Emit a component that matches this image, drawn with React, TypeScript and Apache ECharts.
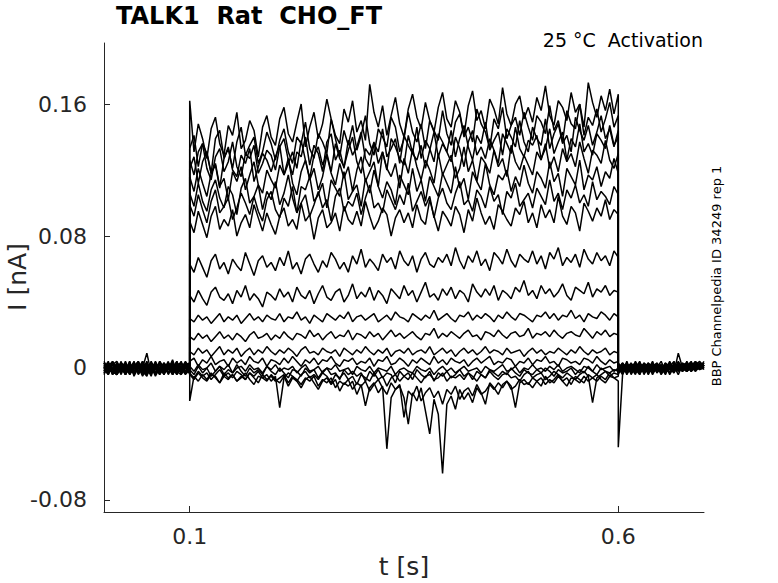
import React, { useEffect, useRef } from "react";
import * as echarts from "echarts";

// ---- sampling (s) ----
const SAMPLE_STEP = 0.005;
const PULSE_START = 0.1;
const PULSE_END = 0.6;

// ---- axis ticks ----
const xTicks = [0.1, 0.6];
const yTicks = [-0.08, 0, 0.08, 0.16];

// ---- texts ----
const titleText = "TALK1  Rat  CHO_FT";
const conditionText = "25 °C  Activation";
const sourceText = "BBP Channelpedia ID 34249 rep 1";
const yName = "I [nA]";
const xName = "t [s]";

// ---- sweeps, values in pA (pre: 0..0.1 s, pulse: 0.1..0.6 s, post: 0.6..0.7 s) ----
const preA = [2, -3, 4, -1, 0, -4, 3, -2, 1, -5, 0, 3, -3, 2, -1, 4, -4, 0, 3, -2, 0];
const pulseA = [
  162, 131, 148, 139, 127, 145, 152, 136, 129, 147, 141, 155, 133, 138, 150, 144, 128, 146, 153, 140,
  135, 151, 158, 142, 137, 149, 160, 134, 146, 155, 139, 148, 163, 151, 141, 136, 157, 149, 162, 143,
  150, 138, 172, 155, 146, 159, 141, 153, 164, 148, 140, 157, 166, 152, 145, 161, 150, 143, 158, 167,
  151, 146, 162, 155, 141, 159, 168, 150, 156, 145, 163, 157, 148, 170, 154, 147, 160, 165, 151, 158,
  149, 164, 156, 171, 153, 147, 162, 158, 150, 167, 155, 160, 146, 173, 161, 152, 165, 156, 169, 154, 166,
];
const postA = [1, -3, 2, 0, -4, 3, -1, 2, -3, 0, 4, -2, 1, -3, 2, 0, -2, 3, 1, -1, 2];

const preB = [-2, 3, -4, 0, 2, -3, 4, -5, 0, 3, -1, 2, -4, 3, 0, -3, 2, -1, 4, -3, 1];
const pulseB = [
  133, 141, 122, 136, 130, 118, 139, 144, 127, 133, 121, 137, 146, 129, 135, 140, 124, 131, 143, 136,
  126, 138, 145, 131, 124, 140, 136, 149, 133, 127, 142, 137, 130, 151, 139, 128, 144, 135, 147, 132,
  141, 153, 136, 129, 145, 140, 134, 152, 146, 131, 139, 155, 143, 137, 148, 133, 150, 144, 138, 156,
  142, 135, 149, 154, 140, 146, 137, 157, 148, 143, 133, 151, 145, 158, 139, 147, 152, 141, 155, 146,
  138, 153, 149, 142, 159, 144, 150, 137, 156, 148, 145, 160, 141, 152, 147, 157, 143, 151, 161, 146, 153,
];
const postB = [-2, 2, -4, 1, 3, -2, 0, -3, 2, 1, -1, 3, -3, 0, 2, -2, 4, -1, 0, 3, 1];

const preC = [3, -1, 0, -4, 3, 1, -3, 0, 4, -2, -4, 2, 0, -3, 3, -1, 5, -3, 0, 2, -2];
const pulseC = [
  126, 117, 131, 136, 121, 114, 128, 133, 119, 125, 137, 122, 116, 130, 127, 135, 118, 124, 132, 129,
  120, 134, 139, 126, 117, 131, 128, 140, 123, 135, 130, 119, 137, 142, 126, 132, 121, 138, 129, 134,
  143, 127, 122, 136, 131, 145, 128, 133, 139, 124, 141, 135, 130, 146, 127, 138, 133, 125, 142, 137,
  131, 144, 128, 139, 147, 134, 126, 141, 136, 149, 132, 138, 143, 129, 145, 140, 134, 150, 137, 131,
  146, 139, 135, 151, 133, 142, 148, 136, 141, 131, 152, 144, 138, 147, 135, 143, 153, 139, 145, 134, 144,
];
const postC = [3, -1, 0, -3, 2, -4, 3, 1, -2, 0, 2, -3, 1, 4, -1, 0, -2, 2, 3, 0, 2];

const preQ = [1, -2, 3, -4, 0, 2, -1, 3, -3, 1, 0, -2, 4, -1, -3, 2, 0, -4, 1, 3, -1];
const pulseQ = [
  121, 128, 112, 125, 131, 118, 123, 109, 127, 134, 120, 116, 129, 124, 133, 113, 122, 130, 126, 119,
  128, 135, 117, 124, 131, 121, 138, 126, 115, 129, 134, 123, 130, 119, 136, 127, 122, 132, 140, 125,
  118, 133, 129, 137, 124, 131, 120, 139, 134, 127, 123, 141, 130, 126, 135, 121, 132, 143, 128, 136,
  131, 125, 140, 133, 122, 137, 144, 129, 134, 127, 139, 132, 124, 142, 136, 130, 146, 133, 128, 138,
  135, 141, 127, 133, 145, 130, 137, 143, 126, 139, 134, 148, 131, 136, 129, 142, 138, 133, 147, 135, 140,
];
const postQ = [-1, 3, 0, -2, 4, -1, 1, -3, 2, 0, -2, 3, -1, 1, -4, 2, 0, 3, -2, 1, 0];

const preD = [-3, 0, 2, -2, 4, -4, 0, 3, -3, 1, 0, -5, 3, -1, 2, -3, 0, 4, -4, 0, 3];
const pulseD = [
  116, 107, 121, 112, 104, 118, 124, 110, 115, 102, 119, 113, 122, 108, 117, 125, 111, 106, 120, 114,
  109, 123, 117, 127, 112, 105, 119, 126, 114, 121, 108, 116, 129, 118, 111, 124, 115, 122, 107, 120,
  128, 113, 119, 125, 110, 131, 121, 116, 124, 109, 127, 118, 133, 122, 114, 126, 120, 112, 130, 117,
  123, 129, 115, 121, 134, 119, 126, 113, 128, 124, 118, 132, 122, 127, 116, 135, 125, 120, 129, 123,
  117, 131, 126, 136, 121, 128, 119, 133, 125, 130, 122, 137, 127, 118, 132, 129, 124, 138, 126, 121, 130,
];
const postD = [0, -4, 3, -1, 1, 2, -3, 0, 3, -2, 1, 0, -3, 2, -1, 3, 0, -1, 2, 4, 1];

const preE = [0, 4, -3, 1, -2, 3, -4, 2, 0, -3, 3, -1, 2, -4, 0, 3, -3, 1, -2, 0, -3];
const pulseE = [
  106, 98, 112, 101, 95, 108, 114, 103, 97, 110, 105, 93, 109, 115, 100, 104, 111, 96, 107, 102,
  113, 99, 106, 117, 103, 94, 110, 108, 116, 101, 105, 112, 97, 114, 109, 104, 119, 102, 107, 111,
  98, 115, 106, 120, 110, 103, 113, 108, 99, 117, 111, 105, 121, 107, 114, 101, 116, 110, 104, 118,
  112, 106, 122, 109, 115, 102, 119, 113, 108, 124, 111, 105, 117, 114, 120, 107, 116, 110, 123, 112,
  106, 119, 115, 109, 125, 113, 118, 104, 121, 116, 111, 126, 108, 117, 114, 122, 110, 119, 115, 127, 118,
];
const postE = [-3, 1, -2, 3, -1, 0, 2, -4, 1, 3, -2, 0, 2, -1, 3, -2, 1, 4, -1, 2, 3];

const preR = [-2, 1, 4, -3, 0, -1, 2, -4, 3, 0, -2, 1, -3, 4, 0, -1, 2, -3, 1, -2, 2];
const pulseR = [
  99, 92, 105, 96, 88, 101, 108, 94, 98, 103, 90, 97, 106, 100, 93, 104, 95, 89, 102, 107,
  96, 91, 103, 98, 110, 94, 100, 105, 92, 99, 107, 97, 102, 89, 104, 109, 95, 101, 98, 106,
  93, 103, 111, 97, 100, 94, 108, 102, 96, 105, 99, 112, 95, 101, 107, 98, 104, 91, 103, 109,
  100, 96, 106, 113, 99, 102, 95, 108, 104, 97, 110, 101, 105, 93, 107, 103, 112, 98, 102, 106,
  97, 109, 104, 99, 114, 101, 106, 96, 108, 103, 111, 100, 105, 98, 113, 102, 107, 104, 99, 110, 105,
];
const postR = [2, -3, 1, 0, -2, 3, -4, 1, 0, 2, -1, -3, 3, 0, -1, 2, -2, 1, 4, -1, 0];

const preF = [1, -4, 3, 0, -3, 2, -1, 4, -3, 0, 2, -4, 3, -2, 0, 2, -3, 3, -1, 4, 0];
const pulseF = [
  89, 82, 95, 87, 79, 92, 98, 84, 90, 86, 96, 80, 88, 93, 85, 99, 91, 83, 94, 87,
  81, 92, 97, 86, 90, 84, 100, 89, 93, 78, 91, 96, 85, 88, 94, 83, 98, 90, 87, 95,
  86, 101, 92, 84, 89, 97, 93, 80, 91, 96, 88, 94, 85, 99, 90, 87, 102, 92, 83, 95,
  91, 86, 98, 93, 82, 96, 89, 103, 94, 87, 92, 84, 99, 95, 90, 86, 97, 93, 101, 88,
  94, 85, 99, 91, 96, 88, 104, 92, 87, 98, 94, 83, 100, 95, 89, 97, 92, 102, 90, 96, 93,
];
const postF = [2, -2, 4, -3, 0, 1, -1, 3, -2, 0, -3, 2, 0, 1, -2, 2, 3, -1, 1, 0, 4];

const preG = [-4, 2, -1, 3, 0, -3, 2, -2, 3, -4, 1, 0, -3, 4, -1, 0, -4, 2, 3, -3, -1];
const pulseG = [
  63, 58, 67, 61, 55, 65, 69, 60, 64, 57, 66, 62, 59, 70, 63, 56, 65, 68, 61, 64,
  59, 67, 62, 71, 60, 64, 57, 66, 69, 63, 58, 65, 61, 70, 66, 60, 64, 58, 68, 63,
  72, 61, 66, 63, 59, 69, 64, 67, 60, 71, 65, 62, 68, 58, 66, 70, 63, 61, 67, 64,
  69, 62, 73, 65, 60, 68, 64, 71, 62, 66, 59, 70, 67, 63, 72, 65, 61, 69, 66, 64,
  71, 63, 68, 60, 70, 66, 73, 62, 67, 64, 69, 61, 72, 66, 63, 70, 65, 68, 62, 71, 67,
];
const postG = [-1, 3, -3, 0, 2, -2, 1, -1, 4, -3, 0, 1, 3, -2, 0, 1, -1, 2, 0, 3, 1];

const preH = [3, 0, -2, -4, 1, 3, -3, 0, 2, -1, 4, -3, 0, -2, 3, -4, 1, 0, -3, 2, 3];
const pulseH = [
  44, 40, 47, 42, 38, 46, 49, 43, 41, 45, 39, 47, 43, 50, 41, 45, 42, 37, 46, 44,
  41, 48, 43, 46, 40, 49, 44, 42, 47, 39, 45, 50, 43, 41, 46, 48, 40, 44, 51, 42,
  46, 43, 49, 41, 47, 44, 39, 48, 45, 42, 50, 44, 47, 40, 46, 52, 43, 45, 41, 48,
  44, 49, 42, 47, 45, 40, 51, 46, 43, 48, 44, 50, 41, 47, 45, 42, 49, 46, 53, 44,
  47, 42, 50, 45, 48, 43, 46, 51, 44, 41, 49, 47, 45, 52, 43, 48, 46, 50, 44, 47, 46,
];
const postH = [1, 0, -2, 2, -3, 3, 0, -2, 1, 2, -4, 0, 2, -1, 1, 3, -2, 0, 4, 1, 2];

const preI = [-1, 2, 3, -3, 0, -2, 4, -4, 2, 0, -3, 3, -1, 2, -4, 3, 0, -2, 1, -3, 0];
const pulseI = [
  30, 28, 32, 29, 31, 27, 30, 33, 28, 31, 29, 32, 27, 30, 33, 29, 31, 28, 32, 30,
  29, 33, 28, 31, 30, 34, 29, 31, 27, 32, 30, 28, 33, 31, 29, 32, 30, 34, 28, 31,
  32, 29, 31, 33, 28, 30, 32, 29, 34, 31, 30, 28, 33, 31, 29, 32, 30, 35, 29, 31,
  33, 30, 28, 32, 31, 34, 29, 32, 30, 33, 31, 28, 32, 30, 34, 31, 29, 33, 32, 30,
  28, 32, 31, 34, 30, 33, 29, 32, 31, 35, 30, 32, 28, 33, 31, 30, 34, 32, 29, 33, 31,
];
const postI = [-4, 2, 1, -2, 0, -3, 2, 1, -1, 3, 0, -2, -1, 2, 0, -2, 2, 1, -1, 2, 0];

const preJ = [0, -3, 2, 4, -1, 0, -3, 3, -2, 1, -4, 0, 3, -3, 2, -1, 4, -3, 0, -2, 1];
const pulseJ = [
  19, 17, 21, 18, 20, 16, 19, 22, 18, 20, 17, 21, 19, 16, 20, 22, 18, 19, 21, 17,
  20, 18, 22, 19, 17, 21, 20, 18, 23, 19, 21, 17, 20, 22, 18, 20, 19, 23, 17, 21,
  20, 18, 22, 19, 21, 17, 20, 23, 19, 21, 18, 20, 22, 19, 17, 21, 20, 24, 18, 21,
  19, 22, 20, 18, 21, 23, 19, 20, 17, 22, 21, 19, 23, 20, 18, 21, 22, 19, 20, 24,
  18, 21, 20, 22, 19, 23, 20, 18, 21, 22, 20, 19, 24, 21, 18, 22, 20, 23, 19, 21, 20,
];
const postJ = [2, -1, 3, -4, 1, 0, -2, 3, 0, -1, 2, -3, 1, 0, 3, -1, 0, 2, -2, 1, 3];

const preK = [4, -1, 0, -3, 3, -4, 2, 0, -2, 3, -3, 1, -5, 0, 2, -3, 3, -1, 0, 3, -4];
const pulseK = [
  10, 8, 12, 9, 11, 7, 10, 13, 8, 11, 9, 12, 7, 10, 12, 8, 11, 9, 13, 10,
  8, 11, 9, 12, 10, 7, 11, 13, 9, 10, 8, 12, 10, 9, 11, 7, 12, 10, 8, 11,
  9, 13, 10, 8, 11, 9, 12, 7, 10, 11, 9, 12, 8, 10, 11, 9, 13, 8, 10, 12,
  9, 11, 7, 10, 12, 9, 11, 8, 10, 13, 9, 11, 10, 8, 12, 9, 10, 11, 7, 10,
  12, 9, 11, 8, 10, 9, 12, 10, 8, 11, 9, 13, 10, 8, 11, 9, 10, 12, 8, 10, 9,
];
const postK = [0, 3, -1, 1, -3, 2, -1, 0, -3, 2, 1, -1, 4, -2, 0, 2, 1, -2, 3, 0, 1];

const preL = [-3, 2, -4, 0, 3, -2, 0, 2, -3, 4, -1, 0, -3, 2, -2, 3, -4, 1, 0, -3, 2];
const pulseL = [
  4, 6, 1, 5, 3, 7, 2, 4, 5, 1, 6, 3, 5, 2, 7, 4, 3, 6, 1, 5,
  4, 2, 6, 3, 7, 4, 1, 5, 3, 6, 2, 5, 4, 7, 3, 1, 5, 4, 6, 2,
  4, 3, 6, 1, 5, 4, 7, 2, 3, 6, 4, 1, 5, 3, 6, 4, 2, 7, 3, 5,
  2, 6, 4, 3, 5, 1, 4, 6, 3, 5, 7, 2, 4, 3, 6, 5, 1, 4, 3, 6,
  2, 5, 4, 7, 3, 4, 1, 6, 5, 3, 4, 2, 6, 5, 3, 7, 4, 2, 5, 3, 4,
];
const postL = [-2, 1, 0, 3, -2, -1, 3, -3, 2, 0, -2, 1, -1, 3, -2, 1, -1, 3, 0, 2, -1];

const preM = [2, 0, -3, 3, -2, 1, -4, 0, 3, -3, 2, -1, 0, -4, 3, 0, -2, 4, -3, 1, -1];
const pulseM = [
  1, -2, 2, -1, 0, 3, -2, 1, -1, 2, -3, 0, 1, -2, 2, -1, 0, -3, 1, -1,
  2, -2, 0, -1, 1, -3, 0, 2, -2, -1, 1, -3, 0, -1, 2, -2, -1, 0, -4, 1,
  -1, -2, 1, -3, 0, -1, -2, 1, -4, -1, 0, -2, -3, 1, -1, -2, 0, -4, -1, 1,
  -2, 0, -3, -1, 1, -2, -1, 0, -3, 1, -1, -2, 0, 2, -2, -1, 1, -3, 0, -1,
  2, -1, 0, -2, 1, -1, 2, -2, 0, 1, -1, -3, 1, 0, -2, 2, -1, 0, 1, -2, 0,
];
const postM = [3, -2, 2, -1, 0, 4, -3, 1, -1, 2, -2, 3, 0, -3, 9, 0, 3, -1, 2, -1, 2];

const preS = [0, -3, 2, -1, 3, -4, 1, 0, -2, 2, -3, 4, -1, 0, -4, 1, 3, -2, 0, 2, -3];
const pulseS = [
  -1, -4, 1, -3, 0, -5, -2, 1, -4, -1, -3, 2, -2, -5, 0, -3, -1, -4, 1, -2,
  -4, 0, -3, -6, -1, -2, -5, 0, -3, -1, -6, -2, 0, -4, -3, -7, -1, -4, -2, -5,
  -3, -8, -2, -5, -1, -6, -3, -4, -9, -2, -5, -3, -7, -1, -4, -6, -2, -8, -3, -5,
  -2, -6, -4, -1, -5, -3, -7, -2, -4, -6, -1, -3, -5, -2, -4, 0, -3, -5, -1, -3,
  -4, -1, -3, 0, -2, -5, -1, -3, -2, 0, -4, -1, -3, 1, -2, -4, 0, -2, -3, -1, -2,
];
const postS = [-3, 0, 2, -2, 1, -1, 3, -3, 0, 1, -2, 2, -4, 1, 0, -1, 2, -2, 0, 1, 2];

const preN = [-1, -4, 2, 0, -3, 4, -2, 3, -4, 0, 9, -3, 1, -2, 0, -3, 2, -4, 3, 0, -3];
const pulseN = [
  -3, -6, -2, -5, -3, -7, -4, -1, -5, -3, -6, -2, -4, -7, -3, -5, -2, -6, -4, -8,
  -5, -24, -6, -3, -5, -8, -4, -2, -6, -4, -7, -3, -5, -9, -4, -6, -3, -7, -5, -10,
  -4, -6, -8, -3, -7, -5, -11, -6, -4, -8, -5, -7, -3, -6, -9, -5, -4, -7, -6, -3,
  -8, -5, -6, -4, -7, -3, -5, -8, -4, -6, -2, -5, -7, -4, -3, -6, -5, -8, -4, -2,
  -6, -4, -3, -7, -5, -2, -4, -6, -3, -5, -7, -4, -2, -5, -21, -6, -4, -2, -5, -3, -4,
];
const postN = [-1, 2, -3, 0, 3, -2, 1, 2, -4, 1, 0, -1, 2, -2, 4, 0, -2, 1, 2, 0, 3];

const preO = [0, 3, -2, -4, 2, 0, -3, 1, 4, -2, -5, 2, -1, 3, -3, 0, 2, -2, -4, 3, 0];
const pulseO = [
  -20, -5, -8, -4, -7, -3, -6, -9, -5, -7, -4, -8, -6, -3, -7, -10, -5, -6, -8, -4,
  -7, -9, -5, -11, -6, -8, -12, -7, -5, -9, -13, -8, -6, -10, -7, -14, -9, -11, -8, -16,
  -10, -23, -12, -9, -15, -11, -49, -18, -13, -10, -30, -14, -17, -11, -20, -15, -12, -18, -14, -22,
  -13, -16, -11, -19, -14, -12, -17, -10, -15, -22, -9, -12, -16, -10, -8, -13, -11, -7, -10, -9,
  -12, -8, -6, -10, -7, -9, -5, -8, -11, -6, -7, -9, -5, -8, -6, -4, -7, -9, -5, -6, -8,
];
const postO = [-48, -4, 1, -2, 2, -3, 0, 3, -1, -2, 1, -4, 2, 0, -1, 2, -1, 0, 3, 1, 0];

const preP = [3, -3, 0, 2, -4, 3, -1, -3, 0, 4, -2, 1, -4, 0, 3, -3, -1, 2, 0, -4, -1];
const pulseP = [
  -4, -7, -3, -6, -8, -4, -5, -9, -3, -6, -4, -8, -5, -7, -3, -6, -9, -4, -7, -5,
  -8, -6, -4, -9, -5, -7, -10, -6, -8, -5, -11, -7, -9, -6, -12, -8, -10, -7, -13, -9,
  -11, -8, -14, -10, -7, -12, -16, -9, -13, -11, -18, -34, -15, -20, -12, -26, -40, -19, -28, -64,
  -22, -17, -25, -13, -19, -15, -21, -12, -16, -14, -10, -13, -9, -12, -8, -11, -24, -9, -7, -10,
  -6, -8, -11, -5, -9, -7, -4, -8, -6, -10, -5, -7, -9, -4, -6, -8, -5, -7, -3, -6, -5,
];
const postP = [1, -2, 0, 2, -1, -4, 2, 0, 3, -2, -1, 1, -3, 2, 0, -1, 3, -2, 1, 2, 0];

const sweeps = [
  { pre: preA, pulse: pulseA, post: postA },
  { pre: preB, pulse: pulseB, post: postB },
  { pre: preC, pulse: pulseC, post: postC },
  { pre: preQ, pulse: pulseQ, post: postQ },
  { pre: preD, pulse: pulseD, post: postD },
  { pre: preE, pulse: pulseE, post: postE },
  { pre: preR, pulse: pulseR, post: postR },
  { pre: preF, pulse: pulseF, post: postF },
  { pre: preG, pulse: pulseG, post: postG },
  { pre: preH, pulse: pulseH, post: postH },
  { pre: preI, pulse: pulseI, post: postI },
  { pre: preJ, pulse: pulseJ, post: postJ },
  { pre: preK, pulse: pulseK, post: postK },
  { pre: preL, pulse: pulseL, post: postL },
  { pre: preM, pulse: pulseM, post: postM },
  { pre: preS, pulse: pulseS, post: postS },
  { pre: preN, pulse: pulseN, post: postN },
  { pre: preO, pulse: pulseO, post: postO },
  { pre: preP, pulse: pulseP, post: postP },
];

const FONT = "'DejaVu Sans', sans-serif";
const INK = "#262626";

function toPoints(s: { pre: number[]; pulse: number[]; post: number[] }) {
  const pts: [number, number][] = [];
  s.pre.forEach((v, i) => pts.push([+(i * SAMPLE_STEP).toFixed(4), v / 1000]));
  s.pulse.forEach((v, i) => pts.push([+(PULSE_START + i * SAMPLE_STEP).toFixed(4), v / 1000]));
  s.post.forEach((v, i) => pts.push([+(PULSE_END + i * SAMPLE_STEP).toFixed(4), v / 1000]));
  return pts;
}

export default function App() {
  const ref = useRef<HTMLDivElement>(null);

  useEffect(() => {
    document.body.style.margin = "0";
    if (!ref.current) return;
    const chart = echarts.init(ref.current, undefined, { renderer: "svg" });
    chart.setOption({
      animation: false,
      backgroundColor: "#ffffff",
      grid: {
        left: 104,
        right: 74,
        top: 43,
        bottom: 71,
        containLabel: false,
        outerBoundsMode: "none",
      },
      xAxis: {
        type: "value",
        min: 0,
        max: 0.7,
        name: xName,
        nameLocation: "middle",
        nameGap: 42,
        nameTextStyle: { fontFamily: FONT, fontSize: 25, color: INK },
        axisLine: { show: true, onZero: false, lineStyle: { color: INK, width: 1 } },
        axisTick: { show: true, inside: true, length: 6, customValues: xTicks, lineStyle: { color: INK } },
        axisLabel: {
          customValues: xTicks,
          formatter: (v: number) => String(v),
          fontFamily: FONT,
          fontSize: 22,
          color: INK,
          margin: 13,
        },
        splitLine: { show: false },
      },
      yAxis: {
        type: "value",
        min: -0.0873,
        max: 0.197,
        axisLine: { show: true, onZero: false, lineStyle: { color: INK, width: 1 } },
        axisTick: { show: true, inside: true, length: 6, customValues: yTicks, lineStyle: { color: INK } },
        axisLabel: {
          customValues: yTicks,
          formatter: (v: number) => (v === 0 ? "0" : String(v)),
          fontFamily: FONT,
          fontSize: 22,
          color: INK,
          margin: 17,
        },
        splitLine: { show: false },
      },
      graphic: [
        {
          type: "text",
          left: 116,
          top: 4,
          style: { text: titleText, font: `bold 24px ${FONT}`, fill: "#000" },
        },
        {
          type: "text",
          x: 17,
          y: 277,
          rotation: Math.PI / 2,
          style: {
            text: yName,
            font: `25px ${FONT}`,
            fill: INK,
            align: "center",
            verticalAlign: "middle",
          },
        },
        {
          type: "text",
          x: 703,
          y: 40,
          style: {
            text: conditionText,
            font: `19px ${FONT}`,
            fill: "#000",
            align: "right",
            verticalAlign: "middle",
          },
        },
        {
          type: "text",
          x: 716,
          y: 276,
          rotation: Math.PI / 2,
          style: {
            text: sourceText,
            font: `13px ${FONT}`,
            fill: "#000",
            align: "center",
            verticalAlign: "middle",
          },
        },
      ],
      series: sweeps.map((s) => ({
        type: "line",
        data: toPoints(s),
        showSymbol: false,
        symbol: "none",
        silent: true,
        lineStyle: { color: "#000", width: 1.5 },
      })),
    });
    return () => chart.dispose();
  }, []);

  return <div ref={ref} style={{ width: 778, height: 583 }} />;
}
